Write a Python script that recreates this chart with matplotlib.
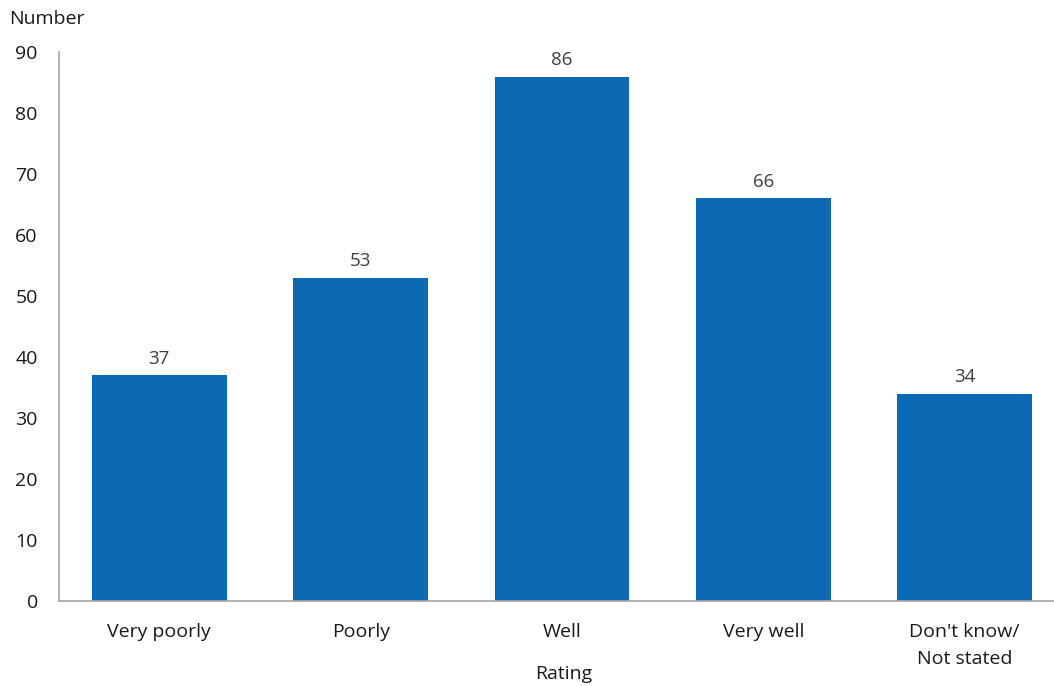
import matplotlib
matplotlib.use("Agg")
import matplotlib.pyplot as plt

# Data
categories = ["Very poorly", "Poorly", "Well", "Very well", "Don't know/\nNot stated"]
values = [37, 53, 86, 66, 34]
yticks = [0, 10, 20, 30, 40, 50, 60, 70, 80, 90]

plt.rcParams['font.family'] = ['Open Sans', 'DejaVu Sans']

fig = plt.figure(figsize=(10.54, 6.86), dpi=100)
ax = fig.add_axes([0.0557, 0.124, 0.955, 0.8])

x = list(range(len(categories)))
bars = ax.bar(x, values, width=0.67, color='#0B6AB3')

# value labels above bars
for xi, v in zip(x, values):
    ax.text(xi, v + 1.2, str(v), ha='center', va='bottom', fontsize=13.5, color='#404040')

ax.set_xlim(-0.5, len(categories) - 0.5)
ax.set_ylim(0, 90)
ax.set_yticks(yticks)
ax.set_xticks(x)
ax.set_xticklabels(categories, fontsize=14, color='#1a1a1a', linespacing=1.6)
ax.tick_params(axis='y', labelsize=14, labelcolor='#1a1a1a', length=0, pad=15)
ax.tick_params(axis='x', length=0, pad=16)

for s in ['top', 'right']:
    ax.spines[s].set_visible(False)
for s in ['left', 'bottom']:
    ax.spines[s].set_color('#A6A6A6')
    ax.spines[s].set_linewidth(1.2)

# axis titles
fig.text(0.535, 0.017, 'Rating', fontsize=14, color='#1a1a1a', ha='center', va='center')
fig.text(0.009, 0.985, 'Number', fontsize=14, color='#1a1a1a', ha='left', va='top')

plt.savefig('out.png', dpi=100)
